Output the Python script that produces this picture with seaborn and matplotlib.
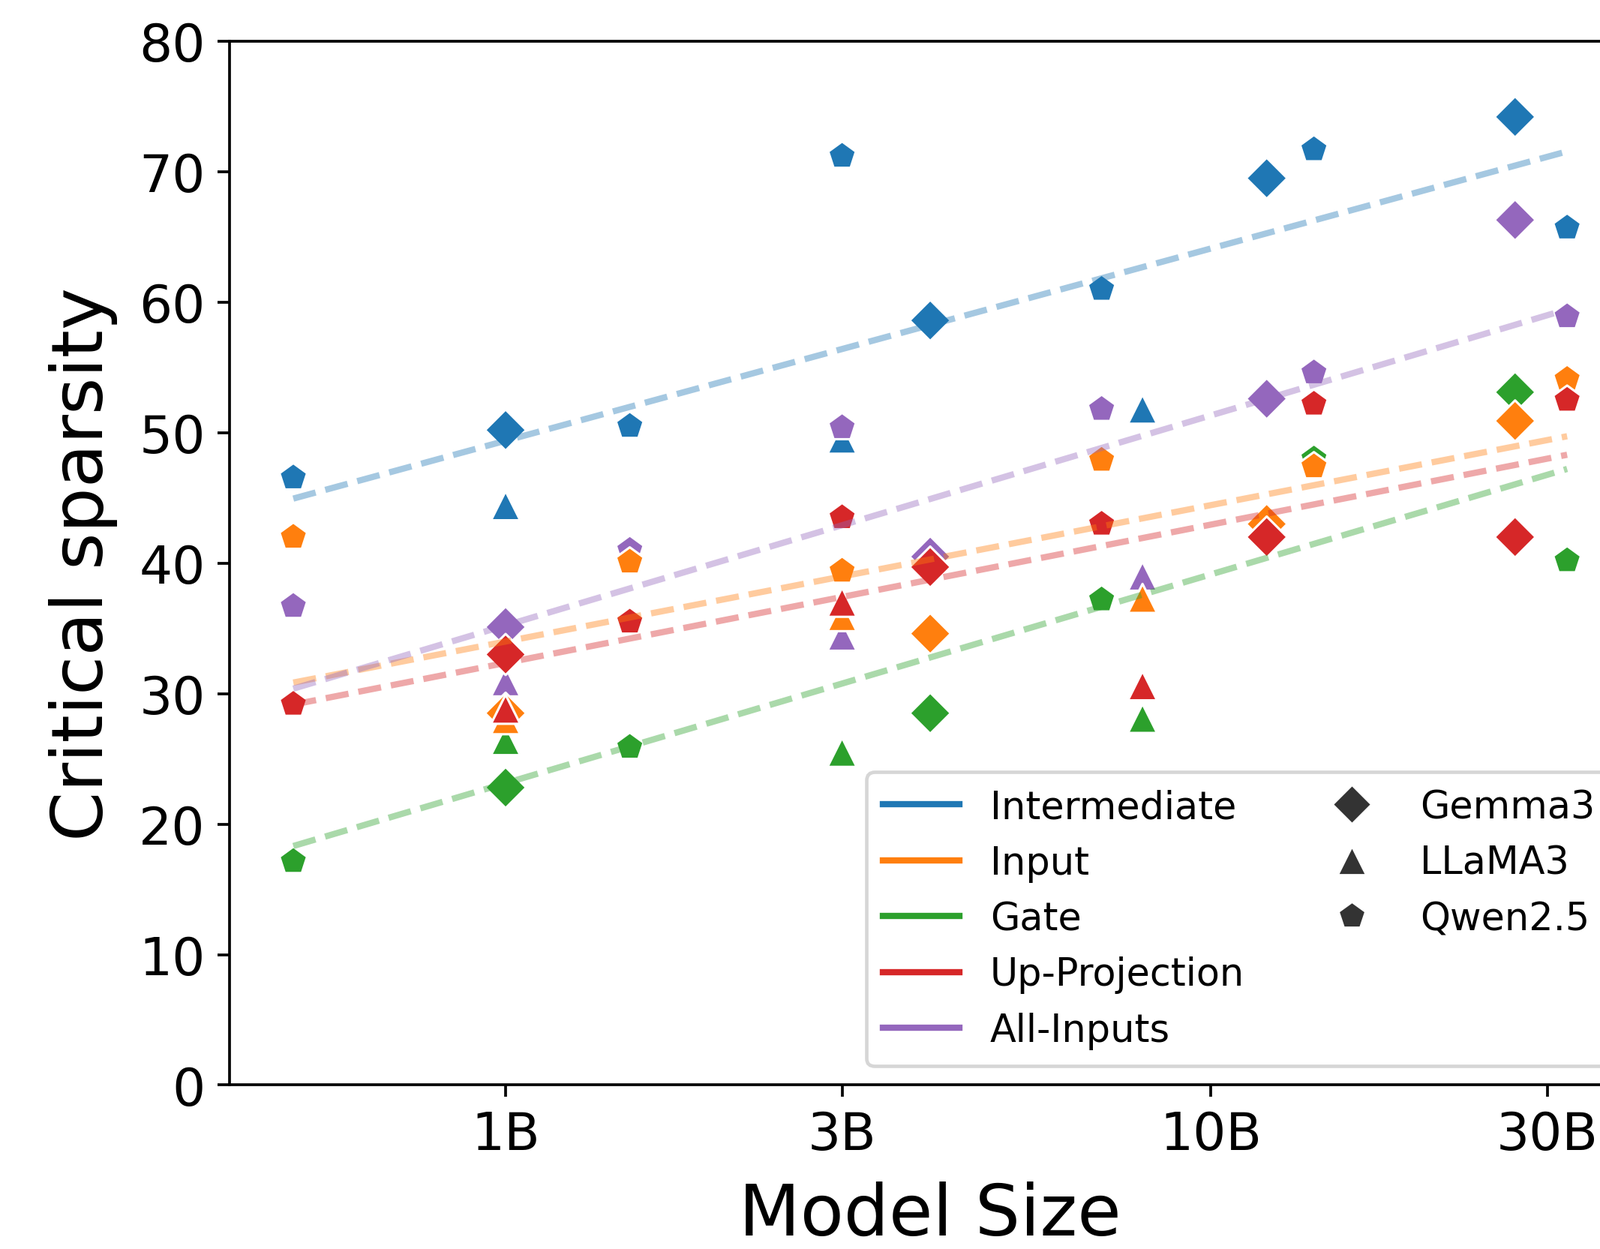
import numpy as np
import pandas as pd
import matplotlib
matplotlib.use("Agg")
import matplotlib.pyplot as plt
from matplotlib.lines import Line2D
from matplotlib.ticker import NullLocator
import seaborn as sns

# ---------------- data (critical sparsity) ----------------
types = ["Intermediate", "Input", "Gate", "Up-Projection", "All-Inputs"]
models = ["Gemma3", "LLaMA3", "Qwen2.5"]

gemma_sizes = [1, 4, 12, 27]
gemma = {
    "Intermediate": [50.2, 58.6, 69.5, 74.2],
    "Input": [28.5, 34.6, 43.0, 50.9],
    "Gate": [22.8, 28.5, 42.0, 53.1],
    "Up-Projection": [33.0, 39.7, 42.0, 42.0],
    "All-Inputs": [35.1, 40.5, 52.6, 66.3],
}

llama_sizes = [1, 3, 8]
llama = {
    "Intermediate": [44.4, 49.5, 51.8],
    "Input": [28.0, 35.9, 37.3],
    "Gate": [26.4, 25.5, 28.1],
    "Up-Projection": [28.8, 37.0, 30.6],
    "All-Inputs": [30.9, 34.4, 39.0],
}

qwen_sizes = [0.5, 1.5, 3, 7, 14, 32]
qwen = {
    "Intermediate": [46.55, 50.5, 71.2, 61.0, 71.7, 65.7],
    "Input": [42.0, 40.1, 39.4, 47.9, 47.4, 54.1],
    "Gate": [17.15, 25.9, 39.4, 37.2, 48.0, 40.2],
    "Up-Projection": [29.2, 35.5, 43.5, 43.0, 52.2, 52.5],
    "All-Inputs": [36.7, 41.0, 50.4, 51.8, 54.6, 58.9],
}

colors = ["#1f77b4", "#ff7f0e", "#2ca02c", "#d62728", "#9467bd"]
marker_map = {"Gemma3": "D", "LLaMA3": "^", "Qwen2.5": "p"}
draw_order = ["Intermediate", "Gate", "All-Inputs", "Input", "Up-Projection"]

# ---------------- long table ----------------
rows = []
for model, sizes, vals in [("Gemma3", gemma_sizes, gemma),
                           ("LLaMA3", llama_sizes, llama),
                           ("Qwen2.5", qwen_sizes, qwen)]:
    for t in types:
        for s, v in zip(sizes, vals[t]):
            rows.append({"model": model, "type": t, "size": s, "sparsity": v})
df = pd.DataFrame(rows)
df["order"] = df["type"].map({t: i for i, t in enumerate(draw_order)})
df = df.sort_values(["order"], kind="stable").reset_index(drop=True)

palette = dict(zip(types, colors))

# ---------------- plot ----------------
fig = plt.figure(figsize=(6.4, 4.998), dpi=333.3)
ax = fig.add_axes([0.1435, 0.1312, 0.8757, 0.8353])

sns.scatterplot(data=df, x="size", y="sparsity", hue="type", style="model",
                palette=palette, markers=marker_map, s=70, legend=False, ax=ax)

# trend lines per type (fit over all models, linear in log size)
for t in types:
    sub = df[df["type"] == t]
    sns.regplot(x=sub["size"], y=sub["sparsity"], logx=True, scatter=False,
                ci=None, color=palette[t], ax=ax,
                line_kws=dict(ls="--", lw=1.8, alpha=0.4))

ax.set_xscale("log")
ax.set_xticks([1, 3, 10, 30])
ax.set_xticklabels(["1B", "3B", "10B", "30B"])
ax.xaxis.set_minor_locator(NullLocator())
ax.set_ylim(0, 80)
ax.set_yticks(np.arange(0, 81, 10))
ax.tick_params(labelsize=15)
ax.set_xlabel("Model Size", fontsize=20.5, labelpad=6)
ax.set_ylabel("Critical sparsity", fontsize=20.5, labelpad=6)

handles = [Line2D([], [], color=c, lw=1.8, label=t) for t, c in zip(types, colors)]
handles += [Line2D([], [], color="#333333", marker=marker_map[m], ls="none",
                   markersize=8, markeredgecolor="w", markeredgewidth=0.6, label=m)
            for m in models]
handles += [Line2D([], [], color="none", label=" ") for _ in range(2)]
ax.legend(handles=handles, ncol=2, loc="lower right", fontsize=11,
          columnspacing=1.8, labelspacing=0.48, borderpad=0.43)

fig.savefig("out.png", dpi=333.3)
